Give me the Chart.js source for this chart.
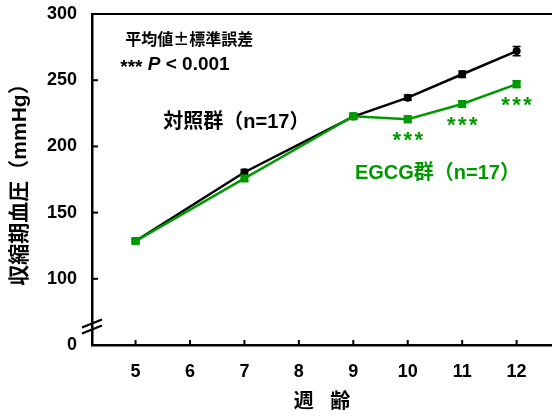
<!DOCTYPE html>
<html><head><meta charset="utf-8">
<script src="https://cdn.jsdelivr.net/npm/chart.js@4.4.1/dist/chart.umd.min.js"></script>
<style>html,body{margin:0;padding:0;background:#fff;}canvas{display:block;}</style>
</head><body>
<canvas id="c" width="552" height="417"></canvas>
<script>
const weeks = [5, 7, 9, 10, 11, 12];
const ctrl = [128.5, 180.5, 222.5, 236.8, 254.5, 272];
const ctrlErr = [1.5, 2, 2, 2, 2.5, 3.5];
const egcg = [128.5, 175.8, 222.8, 220.5, 232, 247];
const egcgErr = [1.5, 2, 2, 2.5, 2.5, 2.5];
const sigWeeks = [10, 11, 12];
const xTicks = [5, 6, 7, 8, 9, 10, 11, 12];
const yTicks = [50, 100, 150, 200, 250, 300];
const yTickLabels = ['0', '100', '150', '200', '250', '300'];

const GREEN = '#009900';
const LATIN = "'Liberation Sans', Arial, 'Noto Sans CJK JP', sans-serif";

const toPts = (ys) => weeks.map((w, i) => ({x: w, y: ys[i]}));

const decor = {
  id: 'decor',
  beforeDatasetsDraw(chart) {
    const {ctx, scales: {x, y}} = chart;
    ctx.save();
    const sets = [[ctrl, ctrlErr, '#000'], [egcg, egcgErr, GREEN]];
    for (const [vals, errs, col] of sets) {
      ctx.strokeStyle = col; ctx.lineWidth = 1.5;
      vals.forEach((v, i) => {
        const px = x.getPixelForValue(weeks[i]);
        const top = y.getPixelForValue(v + errs[i]);
        const bot = y.getPixelForValue(v - errs[i]);
        ctx.beginPath();
        ctx.moveTo(px, top); ctx.lineTo(px, bot);
        ctx.moveTo(px - 4, top); ctx.lineTo(px + 4, top);
        ctx.moveTo(px - 4, bot); ctx.lineTo(px + 4, bot);
        ctx.stroke();
      });
    }
    ctx.restore();
  },
  afterDraw(chart) {
    const {ctx, chartArea: a, scales: {x, y}} = chart;
    ctx.save();
    ctx.strokeStyle = '#000'; ctx.lineWidth = 2;
    xTicks.forEach(v => {
      const px = x.getPixelForValue(v);
      ctx.beginPath(); ctx.moveTo(px, a.bottom); ctx.lineTo(px, a.bottom - 5); ctx.stroke();
    });
    yTicks.slice(1, -1).forEach(v => {
      const py = y.getPixelForValue(v);
      ctx.beginPath(); ctx.moveTo(a.left, py); ctx.lineTo(a.left + 6, py); ctx.stroke();
    });
    const by = y.getPixelForValue(64);
    ctx.lineWidth = 2.2;
    [-3, 3].forEach(d => {
      ctx.beginPath();
      ctx.moveTo(a.left - 10, by + d + 4);
      ctx.lineTo(a.left + 10, by + d - 4);
      ctx.stroke();
    });
    ctx.fillStyle = '#000';
    ctx.textBaseline = 'middle';
    ctx.textAlign = 'left';
    ctx.font = "bold 16px 'Noto Sans CJK JP', sans-serif";
    ctx.fillText('平均値±標準誤差', x.getPixelForValue(4.81), y.getPixelForValue(281));
    let px = x.getPixelForValue(4.72);
    const py = y.getPixelForValue(261.5);
    ctx.font = 'bold 19px ' + LATIN;
    ctx.fillText('***', px, py + 3);
    px += ctx.measureText('*** ').width;
    ctx.font = 'italic bold 19px ' + LATIN;
    ctx.fillText('P', px, py);
    px += ctx.measureText('P ').width;
    ctx.font = 'bold 19px ' + LATIN;
    ctx.fillText('< 0.001', px, py);

    ctx.font = 'bold 20px ' + LATIN;
    ctx.fillText('対照群（n=17）', x.getPixelForValue(5.51), y.getPixelForValue(218));
    ctx.fillStyle = GREEN;
    ctx.fillText('EGCG群（n=17）', x.getPixelForValue(9.03), y.getPixelForValue(179.7));

    ctx.font = 'bold 22px ' + LATIN;
    ctx.textAlign = 'center';
    sigWeeks.forEach(w => {
      const i = weeks.indexOf(w);
      const cx = x.getPixelForValue(w);
      const cy = y.getPixelForValue(egcg[i]) + 22;
      [-11, 0, 11].forEach(o => ctx.fillText('*', cx + o, cy));
    });
    ctx.restore();
  }
};

new Chart(document.getElementById('c'), {
  type: 'line',
  data: {
    datasets: [
      {label: 'EGCG群', data: toPts(egcg), borderColor: GREEN, backgroundColor: GREEN,
       borderWidth: 2.5, pointStyle: 'rect', pointRadius: 5.7, pointBorderWidth: 0, tension: 0},
      {label: '対照群', data: toPts(ctrl), borderColor: '#000', backgroundColor: '#000',
       borderWidth: 2.5, pointStyle: 'circle', pointRadius: 4, pointBorderWidth: 0, tension: 0}
    ]
  },
  options: {
    responsive: false, animation: false, devicePixelRatio: 1,
    layout: {padding: 0, autoPadding: false},
    plugins: {legend: {display: false}, tooltip: {enabled: false}},
    scales: {
      x: {
        type: 'linear', position: 'bottom', min: 4.2, max: 12.65,
        afterBuildTicks: s => { s.ticks = xTicks.map(v => ({value: v})); },
        afterFit: s => { s.height = 72; s.paddingLeft = 0; s.paddingRight = 0; },
        grid: {display: false, drawTicks: false},
        border: {display: true, color: '#000', width: 2.5},
        ticks: {color: '#000', padding: 16, font: {family: LATIN, size: 18, weight: 'bold'}},
        title: {display: true, text: '週   齢', color: '#000', padding: {top: 0, bottom: 3},
                font: {family: LATIN, size: 20, weight: 'bold', lineHeight: 1.2}}
      },
      x2: {
        type: 'linear', position: 'top', min: 4.2, max: 12.65,
        afterFit: s => { s.height = 14; s.paddingLeft = 0; s.paddingRight = 0; },
        grid: {display: false, drawTicks: false},
        border: {display: true, color: '#000', width: 2},
        ticks: {display: false}
      },
      y: {
        type: 'linear', min: 50, max: 300,
        afterBuildTicks: s => { s.ticks = yTicks.map(v => ({value: v})); },
        afterFit: s => { s.width = 92; s.paddingTop = 0; s.paddingBottom = 0; },
        grid: {display: false, drawTicks: false},
        border: {display: true, color: '#000', width: 2.5},
        ticks: {color: '#000', padding: 15, font: {family: LATIN, size: 18, weight: 'bold'},
                callback: (v) => yTickLabels[yTicks.indexOf(v)]},
        title: {display: true, text: '収縮期血圧（mmHg）', color: '#000', padding: {top: 8, bottom: 0},
                font: {family: LATIN, size: 21, weight: 'bold', lineHeight: 1.2}}
      }
    }
  },
  plugins: [decor]
});
</script>
</body></html>
